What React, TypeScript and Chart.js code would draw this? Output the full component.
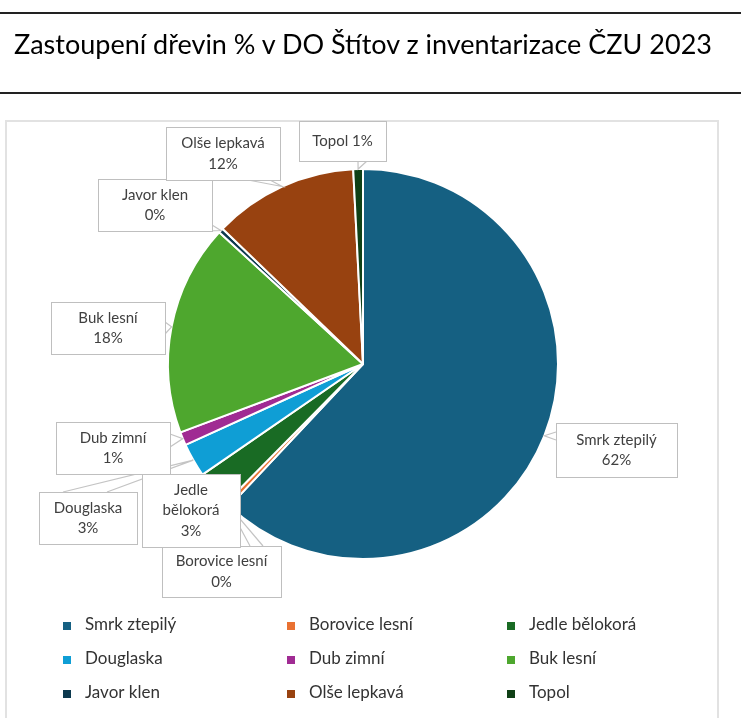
import React, { useEffect, useRef } from "react";
import { Chart, registerables } from "chart.js";

Chart.register(...registerables);

const TITLE = "Zastoupení dřevin % v DO Štítov z inventarizace ČZU 2023";

const species = [
  "Smrk ztepilý",
  "Borovice lesní",
  "Jedle bělokorá",
  "Douglaska",
  "Dub zimní",
  "Buk lesní",
  "Javor klen",
  "Olše lepkavá",
  "Topol",
];

const shares = [62.0, 0.4, 3.0, 2.8, 1.1, 17.5, 0.4, 12.0, 0.8];

const sliceColors = [
  "#156082",
  "#E97132",
  "#196B24",
  "#0F9ED5",
  "#A02B93",
  "#4EA72E",
  "#0C394E",
  "#984210",
  "#0F4016",
];

// callout box layout relative to pie centre: [dx, dy, width, height]
const labelBoxes: number[][] = [
  [193, 59, 121, 54],
  [-201, 182, 119, 51],
  [-221, 110, 98, 73],
  [-324, 128, 98, 52],
  [-307, 58, 114, 52],
  [-312, -62, 114, 52],
  [-265, -185, 114, 52],
  [-197, -237, 114, 53],
  [-64, -243, 87, 40],
];

// callout pointer base points relative to box top-left: [x1, y1, x2, y2]
const labelPointers: (number[] | null)[] = [
  [0, 9, 0, 17],
  [88, 0, 101, 0],
  null,
  [24, 0, 68, 0],
  [114, 12, 114, 25],
  [114, 20, 114, 32],
  [114, 46, 110, 52],
  [82, 53, 104, 53],
  [59, 40, 68, 40],
];

const labelOneLine = [false, false, false, false, false, false, false, false, true];

// legend grid: marker x per column, row y centres
const legendColumnsX = [63, 287, 507];
const legendRowsY = [626, 660, 694];

const LABEL_FONT = "15px Lato";
const LEGEND_FONT = "17px Lato";

function wrapText(ctx: CanvasRenderingContext2D, text: string, maxW: number): string[] {
  const words = text.split(" ");
  const lines: string[] = [];
  let cur = "";
  for (const w of words) {
    const test = cur ? cur + " " + w : w;
    if (cur && ctx.measureText(test).width > maxW) {
      lines.push(cur);
      cur = w;
    } else cur = test;
  }
  if (cur) lines.push(cur);
  return lines;
}

const framePlugin = {
  id: "frame",
  beforeDraw(chart: any) {
    const ctx = chart.ctx as CanvasRenderingContext2D;
    ctx.save();
    ctx.fillStyle = "#ffffff";
    ctx.fillRect(0, 0, chart.width, chart.height);
    ctx.strokeStyle = "#E2E2E2";
    ctx.lineWidth = 2;
    ctx.strokeRect(6, 121, 712, 640);
    ctx.restore();
  },
};

const calloutPlugin = {
  id: "callouts",
  afterDatasetsDraw(chart: any) {
    const ctx = chart.ctx as CanvasRenderingContext2D;
    const meta = chart.getDatasetMeta(0);
    const data: number[] = chart.data.datasets[0].data;
    const total = data.reduce((a, b) => a + b, 0);
    const items = meta.data.map((arc: any, i: number) => {
      const p = arc.getProps(["x", "y", "startAngle", "endAngle", "outerRadius"], true);
      const mid = (p.startAngle + p.endAngle) / 2;
      const tx = p.x + Math.cos(mid) * p.outerRadius;
      const ty = p.y + Math.sin(mid) * p.outerRadius;
      const [dx, dy, w, h] = labelBoxes[i];
      return { tx, ty, bx: p.x + dx, by: p.y + dy, w, h };
    });
    ctx.save();
    ctx.strokeStyle = "#C4C4C4";
    ctx.lineWidth = 1.2;
    items.forEach((it: any, i: number) => {
      const pt = labelPointers[i];
      if (!pt) return;
      ctx.beginPath();
      ctx.moveTo(it.bx + pt[0], it.by + pt[1]);
      ctx.lineTo(it.tx, it.ty);
      ctx.lineTo(it.bx + pt[2], it.by + pt[3]);
      ctx.stroke();
    });
    ctx.font = LABEL_FONT;
    items.forEach((it: any, i: number) => {
      ctx.fillStyle = "#ffffff";
      ctx.fillRect(it.bx, it.by, it.w, it.h);
      ctx.strokeStyle = "#BFBFBF";
      ctx.lineWidth = 1;
      ctx.strokeRect(Math.round(it.bx) + 0.5, Math.round(it.by) + 0.5, it.w, it.h);
      const pct = Math.round((data[i] / total) * 100) + "%";
      const name = chart.data.labels[i] as string;
      const lines = labelOneLine[i]
        ? [name + " " + pct]
        : [...wrapText(ctx, name, it.w - 14), pct];
      const lh = 20.5;
      const cx = it.bx + it.w / 2;
      let y = it.by + it.h / 2 - ((lines.length - 1) * lh) / 2;
      ctx.fillStyle = "#404040";
      ctx.textAlign = "center";
      ctx.textBaseline = "middle";
      for (const l of lines) {
        ctx.fillText(l, cx, y);
        y += lh;
      }
    });
    ctx.restore();
  },
};

const gridLegendPlugin = {
  id: "gridLegend",
  afterDraw(chart: any) {
    const ctx = chart.ctx as CanvasRenderingContext2D;
    const labels: string[] = chart.data.labels;
    const colors: string[] = chart.data.datasets[0].backgroundColor;
    ctx.save();
    ctx.font = LEGEND_FONT;
    ctx.textBaseline = "middle";
    ctx.textAlign = "left";
    labels.forEach((lab, i) => {
      const col = i % 3;
      const row = Math.floor(i / 3);
      const x = legendColumnsX[col];
      const y = legendRowsY[row];
      ctx.fillStyle = colors[i];
      ctx.fillRect(x, y - 4, 8, 8);
      ctx.fillStyle = "#333333";
      ctx.fillText(lab, x + 22, y - 1);
    });
    ctx.restore();
  },
};

export default function App() {
  const canvasRef = useRef<HTMLCanvasElement | null>(null);

  useEffect(() => {
    document.body.style.margin = "0";
    const canvas = canvasRef.current;
    if (!canvas) return;
    const chart = new Chart(canvas, {
      type: "pie",
      data: {
        labels: species,
        datasets: [
          {
            data: shares,
            backgroundColor: sliceColors,
            borderColor: "#ffffff",
            borderWidth: 2,
          },
        ],
      },
      options: {
        responsive: false,
        animation: false,
        devicePixelRatio: 1,
        layout: { padding: { left: 167, right: 182, top: 168, bottom: 158 } },
        plugins: {
          legend: { display: false },
          tooltip: { enabled: false },
          title: { display: false },
        },
      },
      plugins: [framePlugin, calloutPlugin, gridLegendPlugin],
    });
    return () => chart.destroy();
  }, []);

  return (
    <div style={{ position: "relative", width: 741, height: 718, overflow: "hidden", background: "#fff" }}>
      <canvas ref={canvasRef} width={741} height={718} style={{ position: "absolute", left: 0, top: 0 }} />
      <div
        style={{
          position: "absolute",
          left: 0,
          top: 12,
          width: 741,
          height: 82,
          borderTop: "2px solid #222",
          borderBottom: "2px solid #222",
          boxSizing: "border-box",
        }}
      />
      <div
        style={{
          position: "absolute",
          left: 14,
          top: 27,
          fontFamily: "Lato",
          fontSize: 27,
          lineHeight: "normal",
          color: "#000",
          whiteSpace: "nowrap",
        }}
      >
        {TITLE}
      </div>
    </div>
  );
}
